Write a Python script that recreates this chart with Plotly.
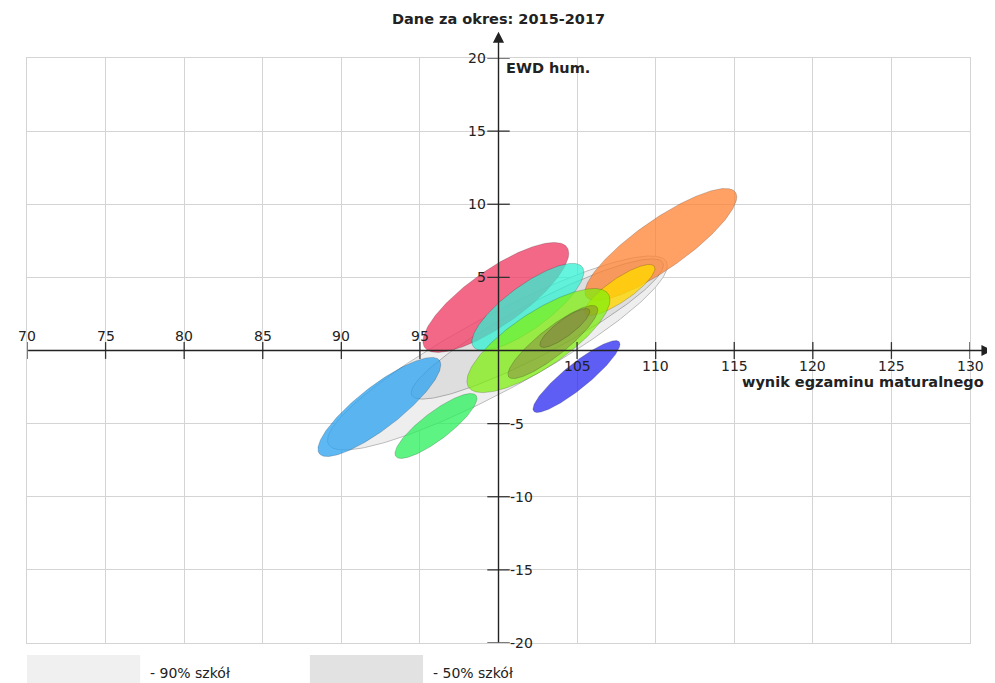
import numpy as np
import plotly.graph_objects as go

# ---- data ----
title_text = "Dane za okres: 2015-2017"
x_title = "wynik egzaminu maturalnego"
y_title = "EWD hum."
x_ticks_above = [70, 75, 80, 85, 90, 95]
x_ticks_below = [105, 110, 115, 120, 125, 130]
y_ticks_left = [5, 10, 15, 20]
y_ticks_right = [-5, -10, -15, -20]
legend_labels = ["- 90% szkół", "- 50% szkół"]

# ellipses: centre (x,y), half-extent in x and y, correlation
ell_names = ["90%", "50%", "red", "cyan", "orange", "yellow", "lime",
             "olive1", "olive2", "sky", "green", "blue"]
ell_cx = [99.93, 102.47, 99.83, 101.87, 110.33, 107.72, 102.54, 103.46, 104.22, 92.42, 96.02, 104.96]
ell_cy = [-0.17, 1.47, 3.63, 2.98, 7.25, 4.14, 0.68, 0.58, 1.54, -3.86, -5.16, -1.78]
ell_hx = [10.81, 8.02, 4.64, 3.56, 4.83, 2.23, 4.55, 2.86, 1.59, 3.91, 2.61, 2.77]
ell_hy = [6.63, 4.79, 3.76, 2.98, 3.83, 1.74, 3.56, 2.50, 1.33, 3.39, 2.22, 2.46]
ell_rho = [0.90, 0.91, 0.80, 0.80, 0.85, 0.84, 0.78, 0.88, 0.85, 0.85, 0.85, 0.90]

# ---- styles ----
ell_fill = ["#EEEEEE", "#DEDEDE",
            "rgba(240,65,105,0.80)", "rgba(50,240,210,0.75)",
            "rgba(255,130,50,0.75)", "rgba(255,215,0,0.80)",
            "rgba(125,240,10,0.72)", "rgba(130,105,60,0.40)",
            "rgba(120,100,60,0.35)", "rgba(40,160,240,0.75)",
            "rgba(40,240,90,0.75)", "rgba(40,40,240,0.75)"]
ell_line = ["#BBBBBB", "#AAAAAA"] + ["rgba(0,0,0,0.18)"] * 10

FONT = "DejaVu Sans"
fig = go.Figure()

t = np.linspace(0, 2 * np.pi, 240)
for i in range(len(ell_names)):
    r = ell_rho[i]
    xs = ell_cx[i] + ell_hx[i] * np.cos(t)
    ys = ell_cy[i] + ell_hy[i] * (r * np.cos(t) + np.sqrt(1 - r * r) * np.sin(t))
    fig.add_trace(go.Scatter(x=xs, y=ys, mode="lines", fill="toself",
                             fillcolor=ell_fill[i],
                             line=dict(color=ell_line[i], width=1),
                             hoverinfo="skip", showlegend=False))

# tick marks on the crossing axes
xt = x_ticks_above + x_ticks_below
fig.add_trace(go.Scatter(x=xt, y=[0] * len(xt), mode="markers",
                         marker=dict(symbol="line-ns-open", size=12, color="#333333",
                                     line=dict(color="#333333", width=1.3)),
                         hoverinfo="skip", showlegend=False, cliponaxis=False))
yt = y_ticks_left + y_ticks_right
fig.add_trace(go.Scatter(x=[100] * len(yt), y=yt, mode="markers",
                         marker=dict(symbol="line-ew-open", size=16, color="#333333",
                                     line=dict(color="#333333", width=1.3)),
                         hoverinfo="skip", showlegend=False, cliponaxis=False))

ann = []
tf = dict(family=FONT, size=14, color="#222222")
for v in x_ticks_above:
    ann.append(dict(x=v, y=0, xref="x", yref="y", text=str(v), showarrow=False,
                    yshift=15, font=tf))
for v in x_ticks_below:
    ann.append(dict(x=v, y=0, xref="x", yref="y", text=str(v), showarrow=False,
                    yshift=-15, font=tf))
for v in y_ticks_left:
    ann.append(dict(x=100, y=v, xref="x", yref="y", text=str(v), showarrow=False,
                    xanchor="right", xshift=-11, font=tf))
for v in y_ticks_right:
    ann.append(dict(x=100, y=v, xref="x", yref="y", text=str(v), showarrow=False,
                    xanchor="left", xshift=9, font=tf))

# axis arrows
ann.append(dict(x=1.024, y=0, xref="paper", yref="y", ax=-966, ay=0,
                axref="pixel", ayref="pixel", text="", showarrow=True,
                arrowhead=2, arrowsize=1.6, arrowwidth=1.4, arrowcolor="#222222",
                standoff=0, startstandoff=0))
ann.append(dict(x=100, y=1.045, xref="x", yref="paper", ax=0, ay=612,
                axref="pixel", ayref="pixel", text="", showarrow=True,
                arrowhead=2, arrowsize=1.6, arrowwidth=1.4, arrowcolor="#222222",
                standoff=0, startstandoff=0))

bf = dict(family=FONT, size=14.5, color="#222222")
ann.append(dict(x=1.017, y=0.446, xref="paper", yref="paper", text="<b>" + x_title + "</b>",
                showarrow=False, xanchor="right", yanchor="middle", font=bf))
ann.append(dict(x=100, y=0.983, xref="x", yref="paper", text="<b>" + y_title + "</b>",
                showarrow=False, xanchor="left", yanchor="middle", xshift=5, font=bf))
ann.append(dict(x=100, y=1.066, xref="x", yref="paper", text="<b>" + title_text + "</b>",
                showarrow=False, xanchor="center", yanchor="middle", font=bf))

# legend
shapes = [
    dict(type="rect", xref="paper", yref="paper", x0=0.0, x1=0.12, y0=-0.075, y1=-0.0205,
         fillcolor="#F0F0F0", line=dict(width=0), layer="below"),
    dict(type="rect", xref="paper", yref="paper", x0=0.30, x1=0.42, y0=-0.075, y1=-0.0205,
         fillcolor="#E2E2E2", line=dict(width=0), layer="below"),
]
ann.append(dict(x=0.128, y=-0.051, xref="paper", yref="paper", text=legend_labels[0],
                showarrow=False, xanchor="left", yanchor="middle", font=tf))
ann.append(dict(x=0.428, y=-0.051, xref="paper", yref="paper", text=legend_labels[1],
                showarrow=False, xanchor="left", yanchor="middle", font=tf))

axis_common = dict(showgrid=True, gridcolor="#D4D4D4", gridwidth=1, dtick=5,
                   showticklabels=False, ticks="", zeroline=False,
                   showline=True, mirror=True, linecolor="#D4D4D4", linewidth=1,
                   fixedrange=True)
fig.update_layout(
    width=987, height=675,
    margin=dict(l=19, r=25, t=50, b=40),
    paper_bgcolor="white", plot_bgcolor="white",
    xaxis=dict(range=[70, 130], tick0=70, **axis_common),
    yaxis=dict(range=[-20, 20], tick0=-20, **axis_common),
    annotations=ann, shapes=shapes, showlegend=False,
    font=dict(family=FONT),
)
fig.write_html("out.html")
